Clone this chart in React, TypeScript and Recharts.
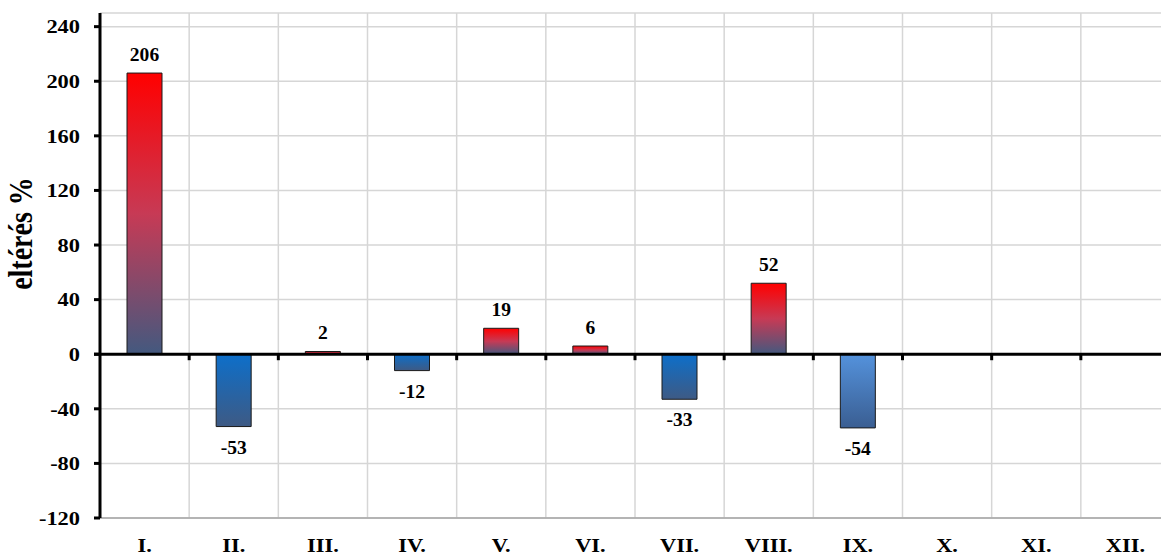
import React from "react";
import { BarChart, Bar, XAxis, YAxis, CartesianGrid, ReferenceLine, Cell, LabelList, Label } from "recharts";

const months = ["I.", "II.", "III.", "IV.", "V.", "VI.", "VII.", "VIII.", "IX.", "X.", "XI.", "XII."];
const deviation: (number | null)[] = [206, -53, 2, -12, 19, 6, -33, 52, -54, null, null, null];
const yTicks = [-120, -80, -40, 0, 40, 80, 120, 160, 200, 240];
const lightBlueMonths = ["IX."];

const data = months.map((month, i) => ({ month, value: deviation[i] }));

const FONT = "'Liberation Serif', 'Times New Roman', serif";
const STRETCH = 1.18;

// wide bold serif text, like the original export
const WideText = ({ x, y, anchor, dy, size = 19, stretch = STRETCH, children }: any) => (
  <text
    transform={`translate(${x} ${y}) scale(${stretch} 1)`}
    x={0}
    y={0}
    dy={dy}
    textAnchor={anchor}
    fontFamily={FONT}
    fontWeight="bold"
    fontSize={size}
    fill="#000"
  >
    {children}
  </text>
);

const XTick = (props: any) => (
  <WideText x={props.x} y={props.y} anchor="middle" dy="0.71em">
    {props.payload.value}
  </WideText>
);

const YTick = (props: any) => (
  <WideText x={props.x} y={props.y} anchor="end" dy="0.36em">
    {props.payload.value}
  </WideText>
);

const ZeroLine = (props: any) => {
  const { x1, x2, y1 } = props;
  const n = months.length;
  const step = (x2 - x1) / n;
  const marks = [];
  for (let k = 1; k < n; k++) {
    const x = x1 + k * step;
    marks.push(<line key={k} x1={x} x2={x} y1={y1} y2={y1 + 6} stroke="#000" strokeWidth={3} />);
  }
  return (
    <g>
      <line x1={x1 - 6} x2={x2} y1={y1} y2={y1} stroke="#000" strokeWidth={3} />
      {marks}
    </g>
  );
};

const renderValueLabel = (props: any) => {
  const { x, y, width, height, value } = props;
  if (value == null) return null;
  const top = Math.min(y, y + height);
  const bottom = Math.max(y, y + height);
  const ty = value >= 0 ? top - 12 : bottom + 27;
  return (
    <WideText x={x + width / 2} y={ty} anchor="middle" stretch={1.03}>
      {value}
    </WideText>
  );
};

const barFill = (month: string, value: number | null) => {
  if (value == null || value >= 0) return "url(#posGrad)";
  return lightBlueMonths.includes(month) ? "url(#negGradLight)" : "url(#negGrad)";
};

export default function App() {
  return (
    <div style={{ position: "absolute", left: 0, top: 0, width: 1161, height: 554, overflow: "hidden", background: "#fff" }}>
      <BarChart width={1175} height={554} data={data} margin={{ top: 13, right: 5, left: 0, bottom: 0 }} barSize={35}>
        <defs>
          <linearGradient id="posGrad" x1="0" y1="0" x2="0" y2="1">
            <stop offset="0%" stopColor="#ff0000" />
            <stop offset="50%" stopColor="#c73a55" />
            <stop offset="100%" stopColor="#43597f" />
          </linearGradient>
          <linearGradient id="negGrad" x1="0" y1="0" x2="0" y2="1">
            <stop offset="0%" stopColor="#0d6fca" />
            <stop offset="100%" stopColor="#3e5a84" />
          </linearGradient>
          <linearGradient id="negGradLight" x1="0" y1="0" x2="0" y2="1">
            <stop offset="0%" stopColor="#5492dc" />
            <stop offset="100%" stopColor="#3a5e92" />
          </linearGradient>
        </defs>
        <CartesianGrid
          stroke="#d6d6d6"
          strokeWidth={1.5}
          verticalCoordinatesGenerator={(args: any) => {
            const left = args?.offset?.left ?? 100;
            const w = args?.offset?.width ?? 1070;
            return months.map((_, k) => left + (k + 1) * (w / months.length));
          }}
        />
        <XAxis
          dataKey="month"
          axisLine={false}
          tickLine={false}
          height={36}
          tickMargin={14}
          interval={0}
          tick={<XTick />}
        />
        <YAxis
          width={100}
          domain={[-120, 250]}
          ticks={yTicks}
          interval={0}
          allowDataOverflow
          axisLine={{ stroke: "#000", strokeWidth: 3 }}
          tickLine={{ stroke: "#000", strokeWidth: 3 }}
          tickSize={6}
          tickMargin={14}
          tick={<YTick />}
        >
          <Label
            content={({ viewBox }: any) => {
              const cx = (viewBox?.x ?? 0) + 21;
              const cy = (viewBox?.y ?? 13) + (viewBox?.height ?? 505) / 2 - 32;
              return (
                <text
                  transform={`translate(${cx} ${cy}) rotate(-90) scale(1 ${STRETCH})`}
                  x={0}
                  y={0}
                  textAnchor="middle"
                  dominantBaseline="central"
                  fontFamily={FONT}
                  fontWeight="bold"
                  fontSize={28}
                  fill="#000"
                >
                  eltérés %
                </text>
              );
            }}
          />
        </YAxis>
        <ReferenceLine y={-120} stroke="#a6a6a6" strokeWidth={1.5} />
        <Bar dataKey="value" stroke="#1a1a1a" strokeWidth={1} isAnimationActive={false}>
          {data.map((d) => (
            <Cell key={d.month} fill={barFill(d.month, d.value)} />
          ))}
          <LabelList dataKey="value" content={renderValueLabel} />
        </Bar>
        <ReferenceLine y={0} shape={ZeroLine} />
      </BarChart>
    </div>
  );
}
